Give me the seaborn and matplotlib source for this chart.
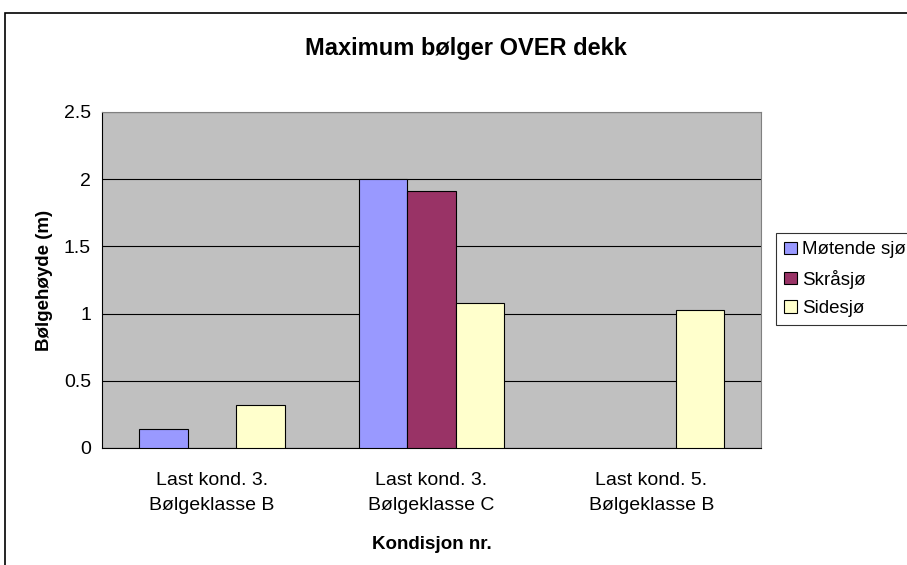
import numpy as np
import pandas as pd
import matplotlib
matplotlib.use("Agg")
import matplotlib.pyplot as plt
import seaborn as sns
from matplotlib.patches import Rectangle

# Data
conditions = ["Last kond. 3.\nBølgeklasse B", "Last kond. 3.\nBølgeklasse C", "Last kond. 5.\nBølgeklasse B"]
series = ["Møtende sjø", "Skråsjø", "Sidesjø"]
motende = [0.14, 2.00, np.nan]
skraa = [np.nan, 1.91, np.nan]
side = [0.32, 1.08, 1.03]
colors = ["#9999FF", "#993366", "#FFFFCC"]

df = pd.DataFrame({
    "Kondisjon": conditions * 3,
    "Serie": [s for s in series for _ in conditions],
    "Hoyde": motende + skraa + side,
})

sns.set_style("white")
plt.rcParams["font.family"] = ["Liberation Sans", "DejaVu Sans"]
plt.rcParams["text.color"] = "black"
plt.rcParams["axes.labelcolor"] = "black"

fig = plt.figure(figsize=(9.07, 5.65), dpi=100)
ax = fig.add_axes([0.1125, 0.2071, 0.7266, 0.5947])
ax.set_facecolor("#C0C0C0")

sns.barplot(data=df, x="Kondisjon", y="Hoyde", hue="Serie", hue_order=series,
            palette=colors, width=0.664, edgecolor="black", linewidth=0.8,
            saturation=1, ax=ax, zorder=3)

ax.set_ylim(0, 2.5)
ax.set_xlim(-0.5, 2.5)
ax.set_yticks(np.arange(0, 2.51, 0.5))
ax.set_yticklabels(["0", "0.5", "1", "1.5", "2", "2.5"])
ax.yaxis.grid(True, color="black", linewidth=0.8, zorder=0)
ax.set_axisbelow(True)

ax.set_xticks([-0.5, 0.5, 1.5, 2.5], minor=True)
ax.tick_params(axis="x", which="major", length=0, pad=17, labelsize=14)
ax.tick_params(axis="x", which="minor", length=5, direction="out", width=0.8)
ax.tick_params(axis="y", length=5, direction="out", width=0.8, labelsize=14, pad=3)
ax.tick_params(axis="both", colors="black")
for lbl in ax.get_xticklabels():
    lbl.set_linespacing(1.65)

for side_name in ["left", "bottom"]:
    ax.spines[side_name].set_color("black")
    ax.spines[side_name].set_linewidth(0.8)
for side_name in ["top", "right"]:
    ax.spines[side_name].set_color("#808080")
    ax.spines[side_name].set_linewidth(0.8)

ax.set_xlabel("Kondisjon nr.", fontsize=13.5, fontweight="bold", labelpad=16)
ax.set_ylabel("Bølgehøyde (m)", fontsize=13.5, fontweight="bold", labelpad=8)

fig.text(466 / 907, 1 - 48 / 565, "Maximum bølger OVER dekk",
         ha="center", va="center", fontsize=17, fontweight="bold")

ax.get_legend().remove()
handles = [Rectangle((0, 0), 1, 1, facecolor=c, edgecolor="black", linewidth=0.8) for c in colors]
leg = fig.legend(handles, series, loc="upper left", bbox_to_anchor=(776 / 907, 1 - 233 / 565),
                 fontsize=13.5, frameon=True, fancybox=False, handlelength=0.65, handleheight=0.65,
                 handletextpad=0.3, borderpad=0.45, labelspacing=0.6, borderaxespad=0)
leg.get_frame().set_edgecolor("black")
leg.get_frame().set_linewidth(0.8)

# Outer chart border (extends past the right and bottom edge)
fig.patches.append(Rectangle((5 / 907, -0.1), 1.2, 1 - 13 / 565 + 0.1, transform=fig.transFigure,
                             fill=False, edgecolor="black", linewidth=1.2))

fig.savefig("out.png", dpi=100)
